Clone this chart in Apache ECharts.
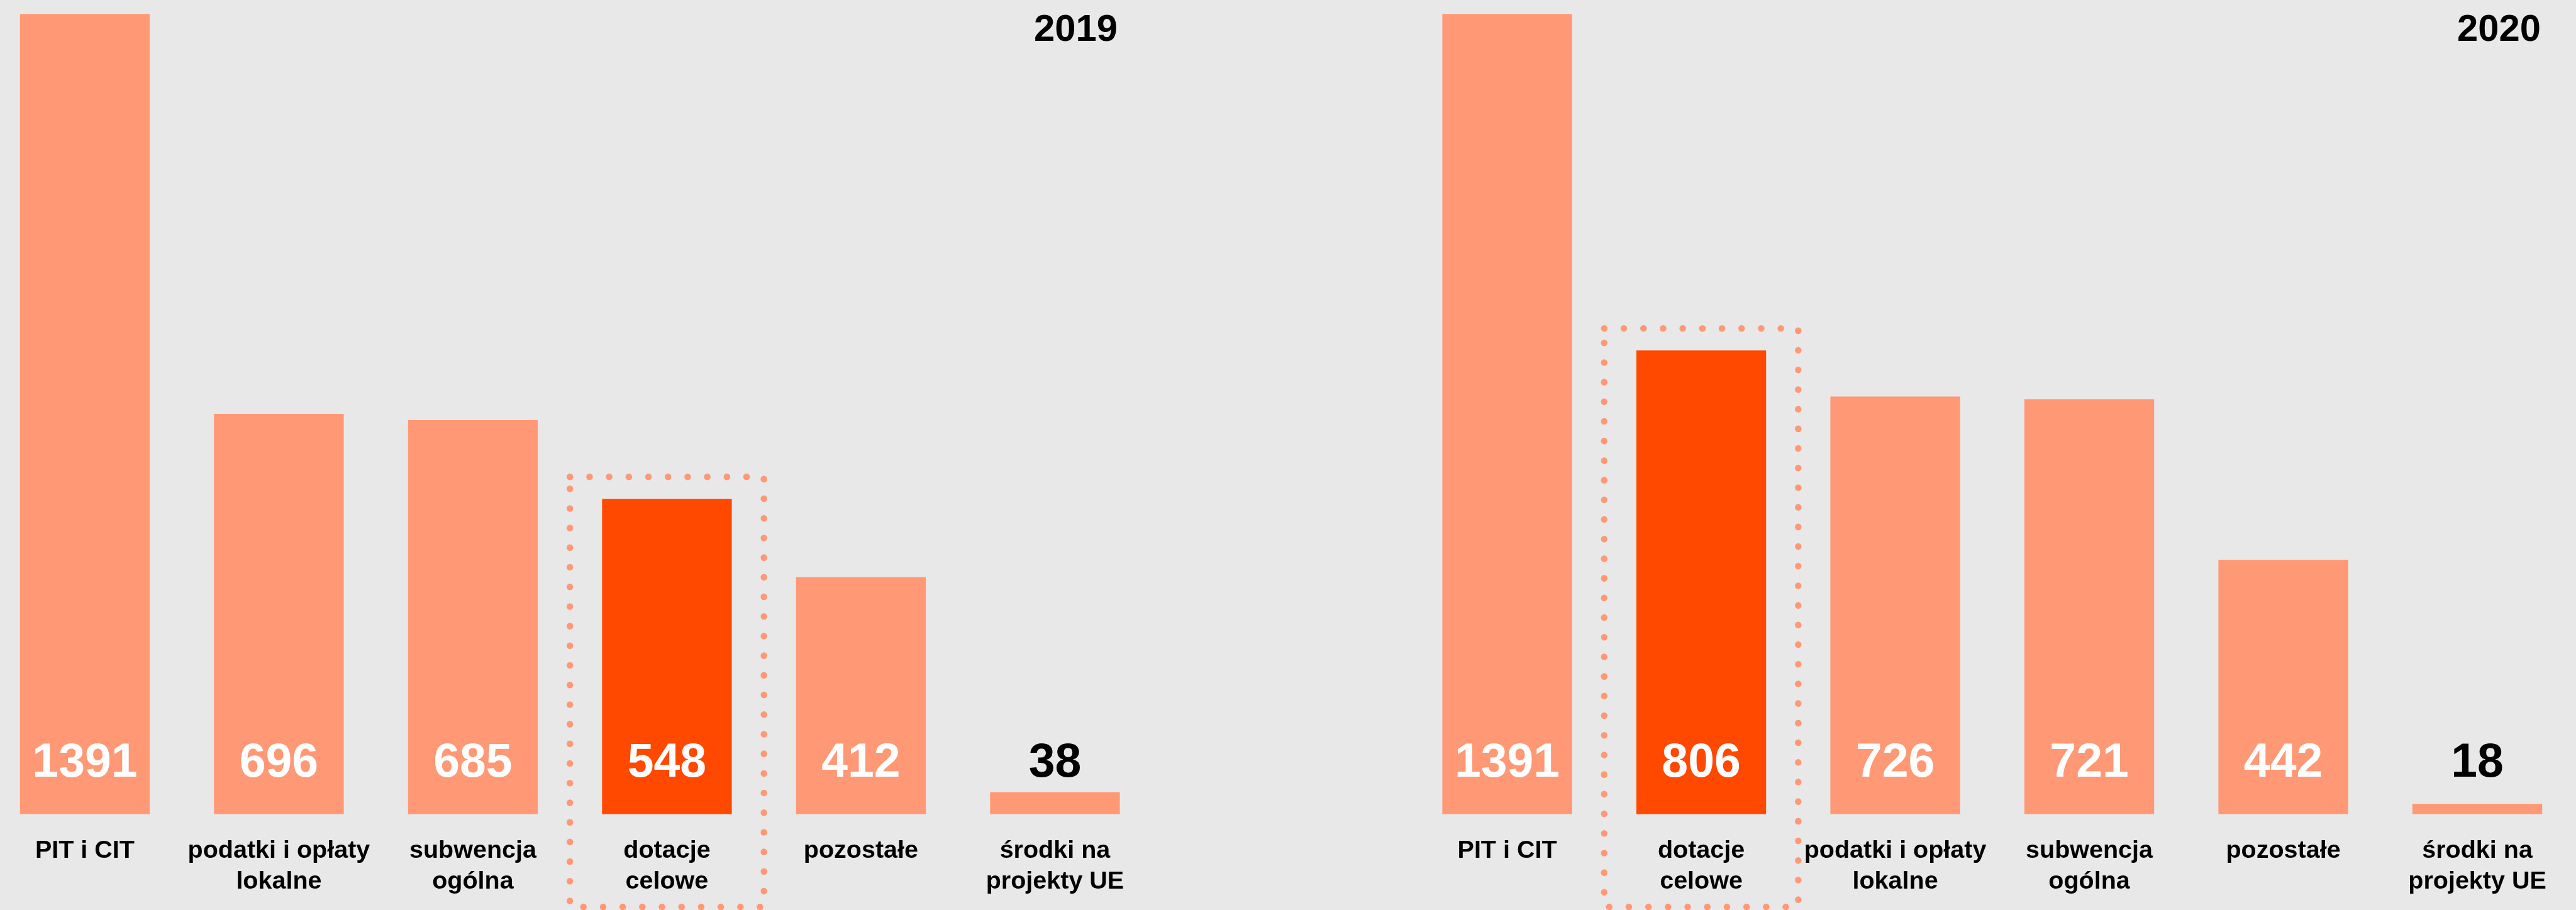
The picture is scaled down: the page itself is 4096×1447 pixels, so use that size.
<!DOCTYPE html>
<html>
<head>
<meta charset="utf-8">
<script src="https://cdn.jsdelivr.net/npm/echarts@6/dist/echarts.min.js"></script>
<style>
html, body { margin: 0; padding: 0; background: #e8e8e8; }
#chart { width: 4096px; height: 1447px; }
</style>
</head>
<body>
<div id="chart"></div>
<script>
var years = ['2019', '2020'];
var categories2019 = ['PIT i CIT', 'podatki i opłaty\nlokalne', 'subwencja\nogólna', 'dotacje\ncelowe', 'pozostałe', 'środki na\nprojekty UE'];
var values2019 = [1391, 696, 685, 548, 412, 38];
var categories2020 = ['PIT i CIT', 'dotacje\ncelowe', 'podatki i opłaty\nlokalne', 'subwencja\nogólna', 'pozostałe', 'środki na\nprojekty UE'];
var values2020 = [1391, 806, 726, 721, 442, 18];
var highlight = 'dotacje\ncelowe';

var LIGHT = '#ff9874';
var DARK = '#ff4800';
var FONT = '"Liberation Sans", Arial, Helvetica, sans-serif';

// bars: highlighted category dark, tiny bars get a black label above
function barData(cats, vals) {
	return vals.map(function (v, i) {
		return {
			value: v,
			itemStyle: { color: cats[i] === highlight ? DARK : LIGHT },
			label: { color: v < 100 ? '#000' : '#fff' }
		};
	});
}

// dotted frame around the highlighted bar
function boxItem(params, api) {
	var p = api.coord([api.value(0), api.value(1)]);
	var bw = api.size([1, 0])[0];
	var cs = params.coordSys;
	var y0 = p[1] - 35;
	var y1 = cs.y + cs.height + 147.5;
	return {
		type: 'rect',
		shape: { x: p[0] - bw / 2, y: y0, width: bw, height: y1 - y0 },
		style: { fill: 'none', stroke: LIGHT, lineWidth: 10.5, lineDash: [0.1, 31.1], lineCap: 'round' }
	};
}

function xAxis(idx, cats) {
	return {
		type: 'category',
		gridIndex: idx,
		data: cats,
		axisLine: { show: false },
		axisTick: { show: false },
		axisLabel: {
			interval: 0,
			margin: 34,
			fontFamily: FONT,
			fontWeight: 'bold',
			fontSize: 39.5,
			lineHeight: 48.8,
			color: '#000'
		}
	};
}

var maxVal = Math.max.apply(null, values2019.concat(values2020));

function yAxis(idx) {
	return { type: 'value', gridIndex: idx, min: 0, max: maxVal, show: false, splitLine: { show: false } };
}

function barSeries(idx, cats, vals) {
	return {
		type: 'bar',
		xAxisIndex: idx,
		yAxisIndex: idx,
		barWidth: 206.3,
		data: barData(cats, vals),
		label: {
			show: true,
			position: 'insideBottom',
			distance: 42.4,
			fontFamily: FONT,
			fontWeight: 'bold',
			fontSize: 75.2,
			lineHeight: 75.2
		}
	};
}

function boxSeries(idx, cats, vals) {
	var k = cats.indexOf(highlight);
	return {
		type: 'custom',
		xAxisIndex: idx,
		yAxisIndex: idx,
		clip: false,
		silent: true,
		z: 1,
		renderItem: boxItem,
		data: [[k, vals[k]]]
	};
}

var yearStyle = { fontFamily: FONT, fontWeight: 'bold', fontSize: 59.8, lineHeight: 59.8, color: '#000' };

var option = {
	backgroundColor: '#e8e8e8',
	animation: false,
	title: [
		{ text: years[0], right: 2319, top: 18.8, padding: 0, textStyle: yearStyle },
		{ text: years[1], right: 56, top: 18.8, padding: 0, textStyle: yearStyle }
	],
	grid: [
		{ left: -19.3, width: 1851, top: 22.2, bottom: 152.4, outerBoundsMode: 'none' },
		{ left: 2242.3, width: 1851, top: 22.2, bottom: 152.4, outerBoundsMode: 'none' }
	],
	xAxis: [xAxis(0, categories2019), xAxis(1, categories2020)],
	yAxis: [yAxis(0), yAxis(1)],
	series: [
		boxSeries(0, categories2019, values2019),
		boxSeries(1, categories2020, values2020),
		barSeries(0, categories2019, values2019),
		barSeries(1, categories2020, values2020)
	]
};

var chart = echarts.init(document.getElementById('chart'));
chart.setOption(option);
</script>
</body>
</html>
